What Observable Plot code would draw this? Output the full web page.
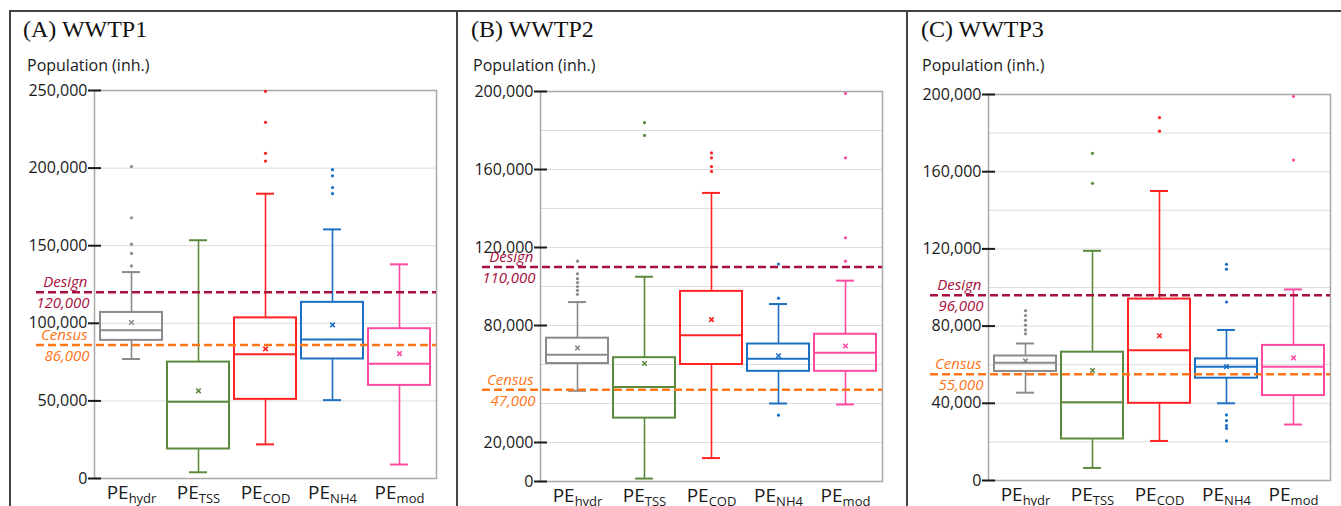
<!DOCTYPE html>
<html><head><meta charset="utf-8">
<script src="https://cdn.jsdelivr.net/npm/d3@7"></script>
<script src="https://cdn.jsdelivr.net/npm/@observablehq/plot@0.6"></script>
<style>
body{margin:0;background:#fff;}
#root{position:relative;width:1341px;height:506px;overflow:hidden;font-family:"Open Sans",sans-serif;}
.frame{position:absolute;left:9px;top:10px;width:1340px;height:500px;border-top:2px solid #444;border-left:2px solid #444;box-sizing:border-box;}
.div{position:absolute;top:10px;width:2px;height:500px;background:#444;}
.title{position:absolute;font-family:"Liberation Serif","Times New Roman",serif;font-size:24px;line-height:24px;color:#111;white-space:nowrap;}
.ylab{position:absolute;font-size:16px;line-height:16px;color:#1a1a1a;white-space:nowrap;}
.plot{position:absolute;top:80px;}
</style></head><body><div id="root">
<div class="frame"></div><div class="div" style="left:456px"></div><div class="div" style="left:906px"></div>
</div>
<script>
// ---- shared ----
const categories = ["hydr","TSS","COD","NH4","mod"];
const colors = ["#8a8a8a","#5b8a3c","#ff2323","#1c70c4","#ff4aa2"];
const refNames = ["Design","Census"];
const refColors = ["#a8103d","#ff7518"];
const panelTitles = ["(A) WWTP1","(B) WWTP2","(C) WWTP3"];
const yTitle = "Population (inh.)";

// ---- Panel A: WWTP1 ----
const aLow  = [77000, 4000, 22000, 50500, 9000];
const aQ1   = [89000, 19000, 51000, 77000, 60000];
const aMed  = [95500, 49500, 80000, 89500, 74000];
const aQ3   = [107000, 75000, 103500, 113500, 96500];
const aHigh = [133000, 153500, 183500, 160500, 138000];
const aMean = [100500, 56500, 83500, 99000, 80500];
const aOut  = [[201000,168000,151000,145000,137000],[],[249500,229500,209500,204500],[199000,195000,187500,183500],[]];
const aRefs = [120000, 86000];
const aLabelTicks = [0,50000,100000,150000,200000,250000];
const aGridTicks  = [50000,100000,150000,200000];

// ---- Panel B: WWTP2 ----
const bLow  = [46500, 1500, 12000, 40000, 39500];
const bQ1   = [60500, 32500, 60000, 56500, 56500];
const bMed  = [65000, 48500, 75000, 63000, 66000];
const bQ3   = [73500, 63500, 97500, 70500, 75500];
const bHigh = [92000, 105000, 148000, 91000, 103000];
const bMean = [68500, 60500, 83000, 64500, 69500];
const bOut  = [[113000,106500,104000,102000,100000,98000,96000],[184000,177500],[168500,166000,161500,159000],[111500,94000,34000],[199000,166000,125000,113000]];
const bRefs = [110000, 47000];
const bLabelTicks = [0,20000,80000,120000,160000,200000];
const bGridTicks  = [20000,40000,60000,80000,100000,120000,140000,160000,180000];

// ---- Panel C: WWTP3 ----
const cLow  = [45500, 6500, 20500, 40000, 29000];
const cQ1   = [56500, 21500, 40000, 53000, 44000];
const cMed  = [61000, 40500, 67500, 59000, 59000];
const cQ3   = [64500, 66500, 94000, 63000, 70000];
const cHigh = [71000, 119000, 150000, 78000, 99000];
const cMean = [62000, 57000, 75000, 59000, 63500];
const cOut  = [[88000,85500,83000,80500,78000,76000],[169500,154000],[188000,181000],[112000,109500,92500,34000,31000,28500,27000,20500],[199000,166000]];
const cRefs = [96000, 55000];
const cLabelTicks = [0,40000,80000,120000,160000,200000];
const cGridTicks  = [20000,40000,60000,80000,100000,120000,140000,160000,180000];

const fmt = d3.format(",");
const root = document.getElementById("root");

function addText(cls, txt, left, top){
  const d = document.createElement("div");
  d.className = cls; d.textContent = txt;
  d.style.left = left + "px"; d.style.top = top + "px";
  root.appendChild(d);
}

function panel(o){
  const rows = categories.map((c,i)=>({cat:c, lo:o.low[i], q1:o.q1[i], med:o.med[i], q3:o.q3[i], hi:o.high[i], mean:o.mean[i], color:colors[i]}));
  const outRows = categories.flatMap((c,i)=>o.out[i].map(v=>({cat:c, v, color:colors[i]})));
  const refRows = refNames.map((n,i)=>({name:n, v:o.refs[i], color:refColors[i]}));
  const svg = Plot.plot({
    width: o.width, height: 426,
    marginLeft: o.ml, marginRight: o.mr, marginTop: o.mt, marginBottom: o.mb,
    style: {fontFamily: '"Open Sans", sans-serif', fontSize: "16px", background: "transparent", overflow: "visible"},
    x: {domain: categories, paddingInner: 0.08, paddingOuter: 0.06, label: null, axis: null},
    y: {domain: [0, o.yMax], label: null, axis: null},
    color: {type: "identity"},
    marks: [
      Plot.gridY(o.grid, {stroke: "#dcdcdc", strokeOpacity: 1, strokeWidth: 1}),
      Plot.frame({stroke: "#a8a8a8", strokeWidth: 1.5}),
      Plot.axisY(o.labels, {tickSize: 13, tickPadding: 1, dx: 7, tickFormat: fmt, fontSize: 16, color: "#1a1a1a", strokeWidth: 2, label: null}),
      Plot.axisX(categories, {tickSize: 0, tickPadding: 7, tickFormat: () => "PE", fontSize: 19, color: "#1a1a1a", label: null}),
      Plot.ruleX(rows, {x: "cat", y1: "q3", y2: "hi", stroke: "color", strokeWidth: 1.6}),
      Plot.ruleX(rows, {x: "cat", y1: "lo", y2: "q1", stroke: "color", strokeWidth: 1.6}),
      Plot.tickY(rows, {x: "cat", y: "hi", stroke: "color", strokeWidth: 2, insetLeft: 22, insetRight: 22}),
      Plot.tickY(rows, {x: "cat", y: "lo", stroke: "color", strokeWidth: 2, insetLeft: 22, insetRight: 22}),
      Plot.barY(rows, {x: "cat", y1: "q1", y2: "q3", fill: "none", stroke: "color", strokeWidth: 2}),
      Plot.tickY(rows, {x: "cat", y: "med", stroke: "color", strokeWidth: 2}),
      Plot.dot(rows, {x: "cat", y: "mean", symbol: "times", r: 2.2, stroke: "color", strokeWidth: 1.6}),
      Plot.dot(outRows, {x: "cat", y: "v", r: 1.6, fill: "color", stroke: null}),
      Plot.ruleY(refRows, {y: "v", stroke: "color", strokeWidth: 2.5, strokeDasharray: "8,4", insetLeft: -58}),
      Plot.text(refRows, {y: "v", text: "name", frameAnchor: "left", textAnchor: "end", dx: -7, dy: -10, fill: "color", fontStyle: "italic", fontSize: 15}),
      Plot.text(refRows, {y: "v", text: d => fmt(d.v), frameAnchor: "left", textAnchor: "end", dx: -5, dy: 11, fill: "color", fontStyle: "italic", fontSize: 15})
    ]
  });
  // subscripts on the x tick labels
  d3.select(svg).selectAll('g[aria-label="x-axis tick label"] text').each(function(_, i){
    d3.select(this).append("tspan").attr("font-size", 13).attr("dy", 4).text(categories[i]);
  });
  svg.classList.add("plot");
  svg.style.position = "absolute";
  svg.style.left = o.left + "px";
  svg.style.top = "80px";
  root.appendChild(svg);
  addText("title", o.title, o.tx, 17);
  addText("ylab", yTitle, o.yx, 57);
}

panel({title: panelTitles[0], tx: 23, yx: 27, left: 10, width: 447, ml: 84, mr: 21, mt: 10, mb: 28,
  low: aLow, q1: aQ1, med: aMed, q3: aQ3, high: aHigh, mean: aMean, out: aOut, refs: aRefs, yMax: 250000, labels: aLabelTicks, grid: aGridTicks});
panel({title: panelTitles[1], tx: 471, yx: 473, left: 457, width: 450, ml: 83, mr: 25, mt: 11, mb: 25,
  low: bLow, q1: bQ1, med: bMed, q3: bQ3, high: bHigh, mean: bMean, out: bOut, refs: bRefs, yMax: 200000, labels: bLabelTicks, grid: bGridTicks});
panel({title: panelTitles[2], tx: 921, yx: 922, left: 907, width: 434, ml: 81, mr: 11, mt: 14, mb: 26,
  low: cLow, q1: cQ1, med: cMed, q3: cQ3, high: cHigh, mean: cMean, out: cOut, refs: cRefs, yMax: 200000, labels: cLabelTicks, grid: cGridTicks});
</script>
</body></html>
